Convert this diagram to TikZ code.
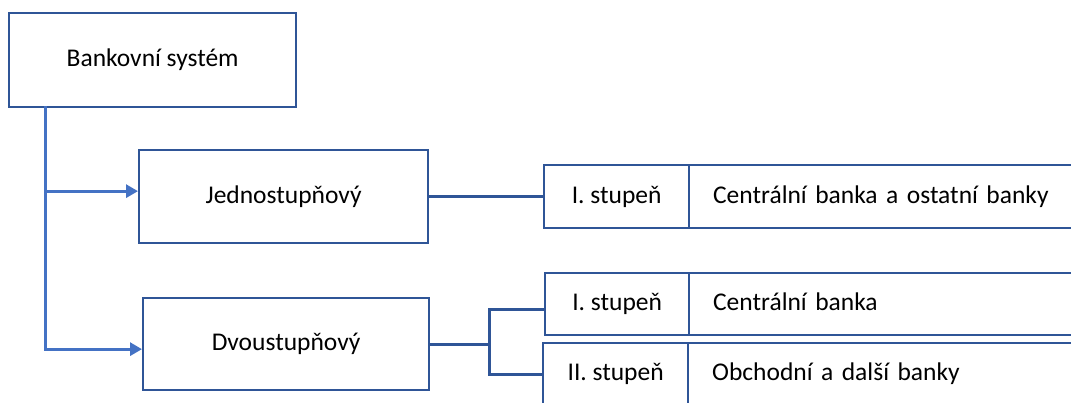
\documentclass[tikz,border=0pt]{standalone}
\usepackage{fontspec}
\setmainfont{Carlito}
\usetikzlibrary{arrows.meta}
\definecolor{boxblue}{HTML}{2F5597}
\definecolor{arrblue}{HTML}{4472C4}
\tikzset{
  box/.style={draw=boxblue, line width=2.3pt, fill=white, inner sep=0pt, anchor=north west,
    font=\fontsize{25.5}{30}\selectfont, text height=18pt, text depth=5pt},
  cellr/.style={box, align=left, inner xsep=24pt},
  conn/.style={draw=boxblue, line width=3pt},
  arr/.style={draw=arrblue, line width=3pt, -{Triangle[length=12pt,width=13pt]}},
}
\begin{document}
\begin{tikzpicture}[x=1pt,y=-1pt]
\useasboundingbox (0,0) rectangle (1071,402);
\clip (0,0) rectangle (1071,402);
\node[box, minimum width=287pt, minimum height=94pt] (bank) at (8,12) {Bankovní systém};
\node[box, minimum width=289pt, minimum height=93pt] (jed) at (138,149) {Jednostupňový};
\node[box, minimum width=286pt, minimum height=92pt] (dvo) at (142,297) {Dvoustupňový};
% row 1
\node[box, minimum width=145pt, minimum height=63pt] (r1a) at (543,164) {I. stupeň};
\node[cellr, text width=364pt, minimum height=63pt] (r1b) at (688,164) {Centrální banka a ostatní banky};
% row 2
\node[box, minimum width=144pt, minimum height=62pt] (r2a) at (544,272) {I. stupeň};
\node[cellr, text width=365pt, minimum height=62pt] (r2b) at (688,272) {Centrální banka};
% row 3
\node[box, minimum width=145pt, minimum height=62pt] (r3a) at (542,342) {II. stupeň};
\node[cellr, text width=365pt, minimum height=62pt] (r3b) at (687,342) {Obchodní a další banky};
% left connectors
\coordinate (v) at (45,106);
\draw[arr] (v) |- ([yshift=5.5pt]jed.west);
\draw[arr] (v) |- ([yshift=-5pt]dvo.west);
% right connectors
\draw[conn] (jed.east) -- (jed.east -| r1a.west);
\path (dvo.east) ++(59,0) coordinate (br);
\draw[conn] (dvo.east) -- (br);
\draw[conn] ([yshift=-5pt]r2a.west) -| (br) |- (r3a.west);
\end{tikzpicture}
\end{document}
